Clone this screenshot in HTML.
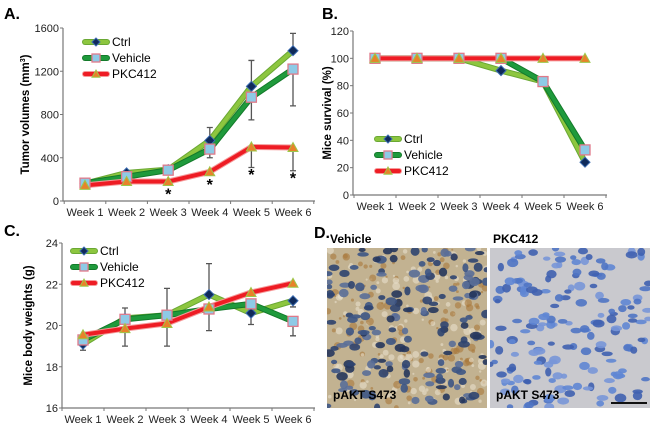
<!DOCTYPE html>
<html><head><meta charset="utf-8"><style>
body{margin:0;background:#fff;width:650px;height:423px;overflow:hidden;font-family:"Liberation Sans",Arial,sans-serif}
svg text{font-family:"Liberation Sans",Arial,sans-serif}
</style></head><body>
<svg id="fig" width="650" height="423">
<text x="4" y="19" font-size="16" font-weight="bold">A.</text>
<text x="322" y="19" font-size="16" font-weight="bold">B.</text>
<text x="4" y="236" font-size="16" font-weight="bold">C.</text>
<text x="314" y="238" font-size="16" font-weight="bold">D.</text>
<g id="A"></g>
<g id="B"></g>
<g id="C"></g>
<g id="D"></g>
</svg>
<script>
const weeks=["Week 1","Week 2","Week 3","Week 4","Week 5","Week 6"];
const aCtrl=[160,260,290,560,1060,1390];
const aVeh=[165,225,285,480,960,1220];
const aPkc=[145,180,180,270,500,495];
const aErr=[[3,680,"Ctrl"],[4,1300,"Ctrl"],[5,1550,"Ctrl"],[3,400,"Veh"],[4,750,"Veh"],[5,880,"Veh"],[4,310,"Pkc"],[5,280,"Pkc"]];
const aStars=[2,3,4,5];
const aTicks=[0,400,800,1200,1600];
const bCtrl=[100,100,100,91,83,24];
const bVeh=[100,100,100,100,83,33];
const bPkc=[100,100,100,100,100,100];
const bTicks=[0,20,40,60,80,100,120];
const cCtrl=[19.1,20.35,20.5,21.5,20.6,21.2];
const cVeh=[19.3,20.3,20.5,20.8,21.05,20.2];
const cPkc=[19.55,19.85,20.1,20.9,21.6,22.05];
const cErr=[[0,18.8,"Ctrl"],[1,20.85,"Ctrl"],[1,19.0,"Pkc"],[2,21.8,"Veh"],[2,19.0,"Pkc"],[3,23.0,"Ctrl"],[3,19.75,"Veh"],[4,20.05,"Ctrl"],[5,20.9,"Ctrl"],[5,19.5,"Veh"]];
const cTicks=[16,18,20,22,24];
const NS="http://www.w3.org/2000/svg";
function el(p,t,a){const e=document.createElementNS(NS,t);for(const k in a)e.setAttribute(k,a[k]);p.appendChild(e);return e;}
const styles={Ctrl:{c:"#8dc63f",o:"#6aa834"},Veh:{c:"#1f9a3c",o:"#137a2a"},Pkc:{c:"#ee1c24",o:"#f59a9a"}};
function marker(g,kind,x,y,s){
  let m;
  if(kind==="Ctrl"){m=el(g,"polygon",{points:`${x},${y-s} ${x+s},${y} ${x},${y+s} ${x-s},${y}`,fill:"#0f2a5a",stroke:"#3a6ab0","stroke-width":1});}
  else if(kind==="Veh"){m=el(g,"rect",{x:x-s,y:y-s,width:2*s,height:2*s,fill:"#8ecae6",stroke:"#e07a8a","stroke-width":1.3});}
  else {m=el(g,"polygon",{points:`${x},${y-s} ${x+s},${y+s*0.8} ${x-s},${y+s*0.8}`,fill:"#e8822a",stroke:"#9cc84a","stroke-width":1});}
  
  
}
function chart(o){
  const g=document.getElementById(o.id);
  const X=i=>o.x0+i*(o.x1-o.x0)/5;
  const Y=v=>o.yb+(v-o.ymin)*(o.yt-o.yb)/(o.ymax-o.ymin);
  const ax=el(g,"path",{d:`M${o.ax},${o.yt} V${o.yb} H${o.axr}`,stroke:"#777",fill:"none","stroke-width":1.2});
  
  o.ticks.forEach(t=>{el(g,"line",{x1:o.ax-3,x2:o.ax,y1:Y(t),y2:Y(t),stroke:"#777"});
    const tx=el(g,"text",{x:o.ax-4,y:Y(t)+4,"font-size":11,"text-anchor":"end",fill:"#222"});tx.textContent=t;
    });
  const step=(o.x1-o.x0)/5;
  for(let i=0;i<=6;i++){const xx=o.x0-step/2+i*step;el(g,"line",{x1:xx,x2:xx,y1:o.yb,y2:o.yb+3,stroke:"#777"});}
  weeks.forEach((w,i)=>{const tx=el(g,"text",{x:X(i),y:o.yb+15,"font-size":11,"text-anchor":"middle",fill:"#222"});tx.textContent=w;
    });
  const yt=el(g,"text",{transform:`translate(${o.titleX},${(o.yt+o.yb)/2}) rotate(-90)`,"font-size":11.5,"font-weight":"bold","text-anchor":"middle"});
  yt.textContent=o.title;
  if(o.sup){const s=el(yt,"tspan",{"font-size":7,dy:-4});s.textContent="3";const r=el(yt,"tspan",{dy:4});r.textContent=")";}
  const data={Ctrl:o.ctrl,Veh:o.veh,Pkc:o.pkc};
  (o.err||[]).forEach(([i,v,k])=>{const y0=Y(data[k][i]);const y1=Y(v);
    const e=el(g,"path",{d:`M${X(i)},${y0} V${y1} M${X(i)-3},${y1} H${X(i)+3}`,stroke:"#555","stroke-width":1.3,fill:"none"});
    });
  ["Ctrl","Veh","Pkc"].forEach(k=>{const pts=data[k].map((v,i)=>X(i)+","+Y(v)).join(" ");
    el(g,"polyline",{points:pts,fill:"none",stroke:styles[k].o,"stroke-width":6,"stroke-linejoin":"round"});
    const l=el(g,"polyline",{points:pts,fill:"none",stroke:styles[k].c,"stroke-width":4,"stroke-linejoin":"round"});
    });
  ["Ctrl","Veh","Pkc"].forEach(k=>data[k].forEach((v,i)=>marker(g,k,X(i),Y(v),5)));
  (o.stars||[]).forEach(i=>{const s=el(g,"text",{x:X(i),y:Y(o.pkc[i])+o.starOff[i],"font-size":16,"font-weight":"bold","text-anchor":"middle"});s.textContent="*";
    });
  const names={Ctrl:"Ctrl",Veh:"Vehicle",Pkc:"PKC412"};
  ["Ctrl","Veh","Pkc"].forEach((k,j)=>{const y=o.ly+j*16;const lg=el(g,"g",{});
    
    el(lg,"line",{x1:o.lx,x2:o.lx+22,y1:y,y2:y,stroke:styles[k].o,"stroke-width":6,"stroke-linecap":"round"});
    el(lg,"line",{x1:o.lx,x2:o.lx+22,y1:y,y2:y,stroke:styles[k].c,"stroke-width":4,"stroke-linecap":"round"});
    marker(lg,k,o.lx+11,y,4);
    const t=el(lg,"text",{x:o.lx+27,y:y+4,"font-size":12});t.textContent=names[k];});
}
chart({id:"A",x0:85,x1:293,ax:63,axr:315,yb:201,yt:28,ymin:0,ymax:1600,ticks:aTicks,title:"Tumor volumes (mm",sup:true,titleX:29,
  ctrl:aCtrl,veh:aVeh,pkc:aPkc,err:aErr,stars:aStars,starOff:{2:18,3:18,4:33,5:36},lx:85,ly:42});
chart({id:"B",x0:375,x1:585,ax:353,axr:607,yb:195,yt:31,ymin:0,ymax:120,ticks:bTicks,title:"Mice survival (%)",titleX:331,
  ctrl:bCtrl,veh:bVeh,pkc:bPkc,lx:377,ly:139});
chart({id:"C",x0:83,x1:293,ax:62,axr:315,yb:408,yt:243,ymin:16,ymax:24,ticks:cTicks,title:"Mice body weights (g)",titleX:32,
  ctrl:cCtrl,veh:cVeh,pkc:cPkc,err:cErr,lx:73,ly:251});
(function(){
  const g=document.getElementById("D");
  function panel(x,y,w,h,bg,nuc,brown,label,name){
    const pg=el(g,"g",{});
    const cp=el(pg,"clipPath",{id:"cp"+name});el(cp,"rect",{x,y,width:w,height:h});
    const inner=el(pg,"g",{"clip-path":`url(#cp${name})`});
    el(inner,"rect",{x,y,width:w,height:h,fill:bg});
    let s=name.length*97+13;const r=()=>{s=(s*9301+49297)%233280;return s/233280;};
    if(brown){for(let i=0;i<260;i++)el(inner,"circle",{cx:x+r()*w,cy:y+r()*h,r:1+r()*3,fill:r()>0.5?"#a8783a":"#e8e0cc",opacity:0.6});}
    for(let i=0;i<170;i++){el(inner,"ellipse",{cx:x+r()*w,cy:y+r()*h,rx:3+r()*3,ry:2+r()*2.5,fill:nuc[Math.floor(r()*nuc.length)],opacity:0.9});}
    const t=el(pg,"text",{x:x+6,y:y+h-9,"font-size":12,"font-weight":"bold"});t.textContent="pAKT S473";
    const hd=el(pg,"text",{x:x+3,y:y-5,"font-size":12,"font-weight":"bold"});hd.textContent=label;
  }
  panel(327,248,160,160,"#c2b291",["#2f4470","#3d5585","#26365c","#5a6e98"],true,"Vehicle","vehicle-image");
  panel(490,248,160,160,"#c9c9ce",["#4f74c4","#5f86d4","#3f60b0","#7896d8"],false,"PKC412","pkc412-image");
  const sb=el(g,"line",{x1:611,x2:647,y1:403,y2:403,stroke:"#111","stroke-width":2});
  
})();
</script>
</body></html>
